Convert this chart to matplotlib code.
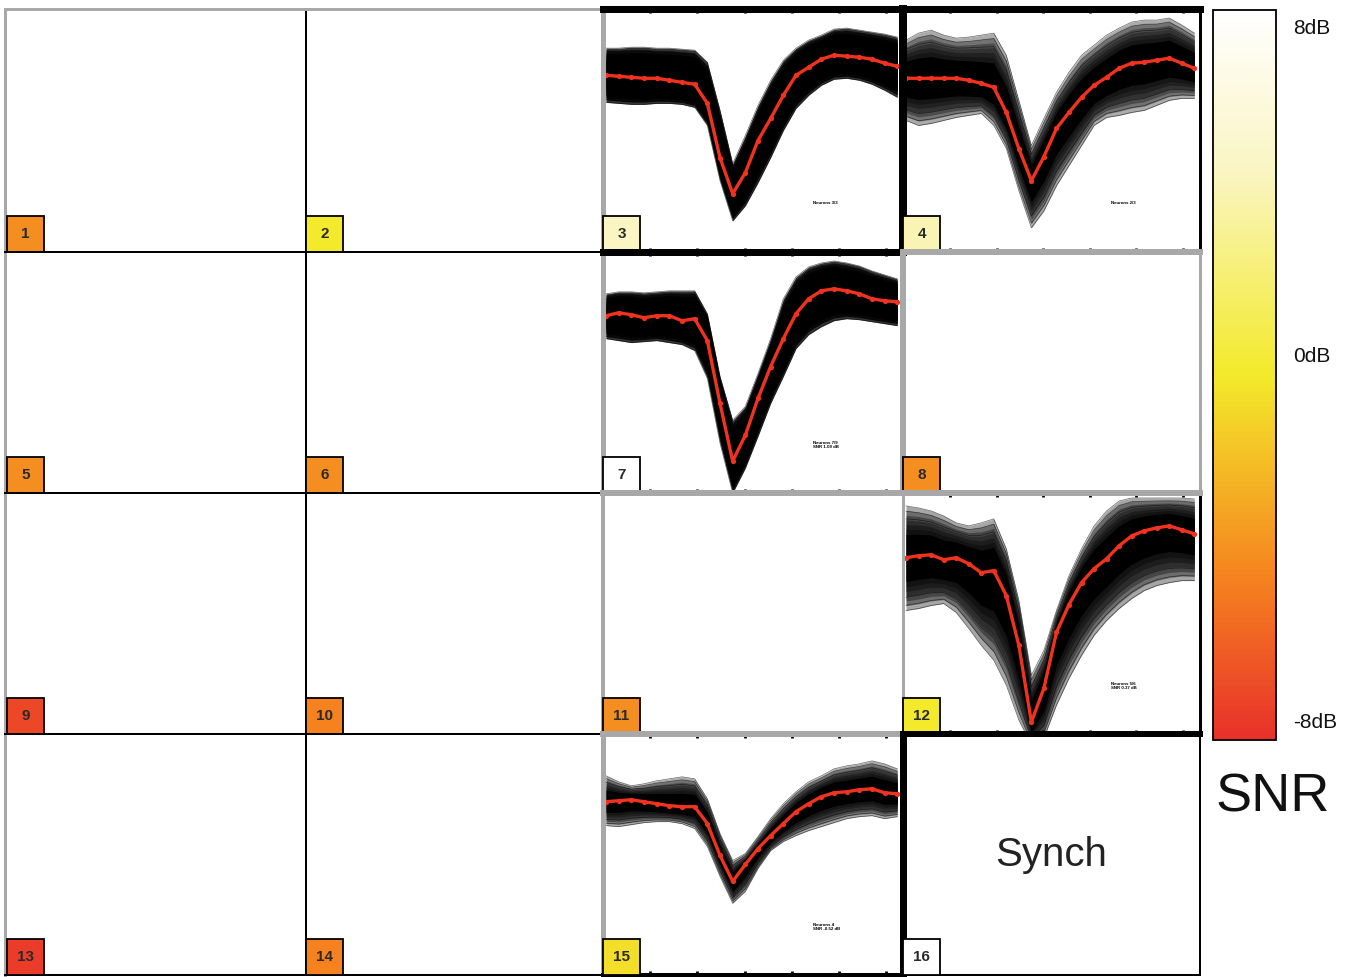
import numpy as np
import matplotlib
matplotlib.use("Agg")
import matplotlib.pyplot as plt
from matplotlib.colors import LinearSegmentedColormap, Normalize
from matplotlib.patches import Rectangle
import matplotlib.cm as cm

plt.rcParams['font.family'] = ['Liberation Sans', 'DejaVu Sans']

#%% data

channels = list(range(1, 17))
# SNR per channel in dB (None = synch channel)
snr_db = [-4, 0, 4.5, 4, -4, -4, 8, -4, -7, -4.5, -4, 0, -7.5, -4.5, -0.5, None]

# waveform samples (24 per spike), amplitudes
t = np.arange(24)

mean3 = [9, 8, 7, 6, 6, 4, 2, 0, -19, -73, -109, -88, -56, -34, -11, 9, 17, 25, 29, 28, 27, 25, 21, 18]
upper3 = [36, 36, 37, 37, 36, 36, 35, 34, 22, -26, -79, -51, -21, 4, 24, 36, 44, 49, 55, 56, 54, 52, 50, 47]
lower3 = [-18, -19, -20, -20, -19, -19, -20, -23, -41, -96, -136, -121, -98, -73, -46, -24, -11, -1, 5, 6, 4, 0, -6, -13]

mean4 = [6, 6, 6, 6, 6, 4, 1, -3, -28, -64, -96, -72, -44, -28, -13, -1, 7, 16, 21, 22, 24, 26, 21, 16]
upper4 = [44, 51, 54, 49, 46, 47, 49, 51, 29, -16, -61, -34, -8, 12, 29, 39, 49, 56, 62, 64, 64, 66, 59, 51]
lower4 = [-36, -41, -39, -36, -33, -31, -29, -41, -64, -106, -143, -126, -101, -81, -61, -41, -33, -31, -28, -26, -21, -16, -14, -14]

mean7 = [11, 14, 12, 9, 11, 11, 6, 8, -14, -77, -135, -109, -72, -40, -12, 13, 28, 36, 38, 36, 33, 28, 26, 25]
upper7 = [33, 35, 35, 34, 35, 36, 36, 36, 13, -50, -94, -80, -47, -12, 28, 50, 60, 64, 66, 64, 61, 56, 52, 48]
lower7 = [-12, -14, -16, -15, -14, -16, -18, -24, -52, -117, -167, -142, -110, -77, -50, -22, -8, 0, 6, 8, 7, 5, 3, 1]

mean12 = [10, 12, 13, 8, 10, 4, -5, -3, -28, -78, -155, -121, -65, -37, -15, -1, 9, 22, 32, 37, 40, 42, 38, 34]
upper12 = [62, 60, 57, 52, 45, 42, 45, 49, 19, -33, -108, -83, -43, -8, 19, 42, 57, 67, 70, 70, 70, 70, 70, 69]
lower12 = [-43, -41, -38, -36, -45, -61, -78, -93, -118, -153, -178, -171, -138, -111, -88, -68, -53, -41, -31, -23, -18, -15, -13, -13]

mean15 = [7, 8, 9, 7, 5, 3, 2, 2, -15, -47, -73, -56, -40, -27, -15, -3, 5, 12, 16, 17, 19, 20, 16, 15]
upper15 = [33, 27, 23, 25, 28, 30, 32, 30, 10, -25, -52, -45, -28, -10, 5, 17, 27, 33, 40, 43, 45, 48, 45, 40]
lower15 = [-17, -18, -16, -14, -13, -13, -15, -20, -38, -68, -95, -83, -60, -42, -33, -27, -22, -18, -14, -10, -8, -7, -10, -8]

notes = {3: "Neurons 3/3", 4: "Neurons 2/3",
         7: "Neurons 7/9\nSNR 1.09 dB", 12: "Neurons 5/6\nSNR 0.37 dB",
         15: "Neurons 4\nSNR -0.52 dB"}

waves = {3: (mean3, upper3, lower3, 0.8),
         4: (mean4, upper4, lower4, 0.33),
         7: (mean7, upper7, lower7, 0.8),
         12: (mean12, upper12, lower12, 0.35),
         15: (mean15, upper15, lower15, 0.33)}

#%% colormap

snr_cmap = LinearSegmentedColormap.from_list(
    "snr", [(0.0, "#e8302a"), (0.22, "#f5821f"), (0.5, "#f3ea2a"),
            (0.78, "#faf5c2"), (1.0, "#ffffff")])
norm = Normalize(-8, 8)

#%% figure

W, H = 1363, 977
fig = plt.figure(figsize=(W / 100, H / 100), dpi=100)
fig.patch.set_facecolor("white")

xe = [5, 306, 603, 903, 1200]
ye = [9, 252, 493, 734, 975]

GR = "#a8a8a8"
BK = "black"
# per panel borders: (top, left, right, bottom) -> (colour, px)
thin = (BK, 2)
borders = {
    1: [(GR, 3), (GR, 3), thin, thin],
    2: [(GR, 3), thin, (GR, 5), thin],
    3: [(BK, 7), (GR, 5), (BK, 8), (BK, 7)],
    4: [(BK, 7), (BK, 8), (BK, 3), (GR, 6)],
    5: [thin, (GR, 3), thin, thin],
    6: [thin, thin, (GR, 5), thin],
    7: [(BK, 7), (GR, 5), (GR, 6), (GR, 6)],
    8: [(GR, 6), (GR, 6), (GR, 3), (GR, 6)],
    9: [thin, (GR, 3), thin, thin],
    10: [thin, thin, (GR, 4), thin],
    11: [(GR, 6), (GR, 4), (GR, 3), (GR, 6)],
    12: [(GR, 6), (GR, 3), (BK, 3), (BK, 6)],
    13: [thin, (GR, 3), thin, thin],
    14: [thin, thin, (GR, 5), thin],
    15: [(GR, 6), (GR, 5), (BK, 7), (BK, 4)],
    16: [(BK, 6), (BK, 7), (BK, 2), (BK, 2)],
}

for idx, ch in enumerate(channels):
    r, c = divmod(idx, 4)
    x0, x1 = xe[c], xe[c + 1]
    y0, y1 = ye[r], ye[r + 1]
    ax = fig.add_axes([x0 / W, 1 - y1 / H, (x1 - x0) / W, (y1 - y0) / H])
    ax.set_facecolor("none")
    ax.set_xlim(-0.24, 23.45)
    ax.set_ylim(-167, 75)
    ax.set_xticks([])
    ax.set_yticks([])

    b = borders[ch]
    for side, (col, px) in zip(["top", "left", "right", "bottom"], b):
        ax.spines[side].set_color(col)
        ax.spines[side].set_linewidth(px * 0.72)
    ax.set_zorder(3 if max(p for _, p in b) > 5 else 1)

    if ch in waves:
        m, up, lo, a = waves[ch]
        m, up, lo = np.array(m), np.array(up), np.array(lo)
        # layered bands so the spread fades out towards the edges
        for f in np.linspace(1.0, 0.55, 6):
            ax.fill_between(t, m + f * (lo - m), m + f * (up - m),
                            color="black", alpha=a, lw=0)
        ax.fill_between(t, m + 0.45 * (lo - m), m + 0.45 * (up - m), color="black", lw=0)
        for f in [0.75, 0.9, 1.0]:
            ax.plot(t, m + f * (up - m), color="black", lw=0.5, alpha=0.6)
            ax.plot(t, m + f * (lo - m), color="black", lw=0.5, alpha=0.6)
        ax.plot(t, m, color="#f0321e", lw=2.4, marker="o", ms=3.8, mec="none")
        ax.set_xticks(np.arange(3.5, 23, 3.72))
        ax.tick_params(axis="x", direction="in", length=3, width=2,
                       top=True, bottom=True, labelbottom=False)
        ax.text(0.70, 0.2, notes[ch], transform=ax.transAxes, fontsize=3.2,
                fontweight="bold", va="center", ha="left", linespacing=1.1)

    if ch == 16:
        ax.text(0.5, 0.5, "Synch", transform=ax.transAxes, fontsize=29,
                ha="center", va="center", color="#222222")

    # channel number box
    s = snr_db[idx]
    fc = "white" if s is None else snr_cmap(norm(s))
    bx = 0.007 if c == 0 else 0.0
    bw = 37 / (x1 - x0)
    bh = 36 / (y1 - y0)
    ax.add_patch(Rectangle((bx, 0.0), bw, bh, transform=ax.transAxes,
                           facecolor=fc, edgecolor="black", lw=1.3,
                           clip_on=False, zorder=10))
    ax.text(bx + bw / 2, bh / 2, str(ch), transform=ax.transAxes,
            fontsize=11, fontweight="bold", color="#2a2a2a",
            ha="center", va="center", zorder=11)

#%% colorbar

cax = fig.add_axes([1213 / W, 1 - 740 / H, 63 / W, 730 / H])
cb = fig.colorbar(cm.ScalarMappable(norm=norm, cmap=snr_cmap), cax=cax)
cb.set_ticks([])
cb.outline.set_linewidth(1.3)

for lab, yy in [("8dB", 28), ("0dB", 357), ("-8dB", 722)]:
    fig.text(1293 / W, 1 - yy / H, lab, fontsize=15, ha="left", va="center", color="#111111")

fig.text(1273 / W, 1 - 797 / H, "SNR", fontsize=39, ha="center", va="center", color="#111111")

plt.savefig("out.png", dpi=100)
